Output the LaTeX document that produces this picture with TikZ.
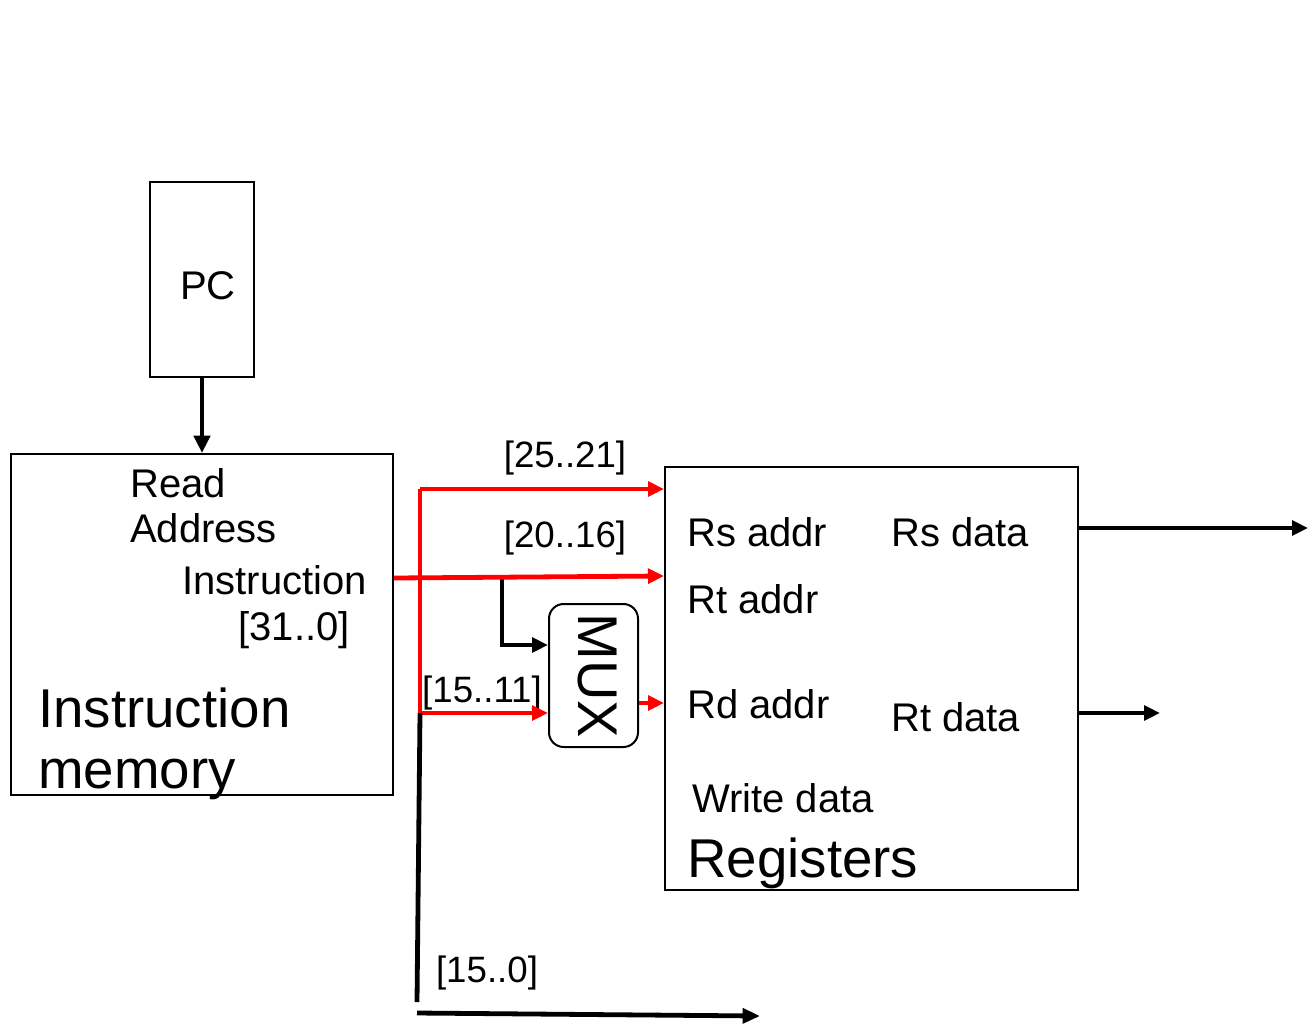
\documentclass[tikz,border=0pt]{standalone}
\usepackage{fontspec}
\setmainfont{Liberation Sans}
\usetikzlibrary{arrows.meta,fit}
\begin{document}
\begin{tikzpicture}[x=0.75pt,y=-0.75pt,
  box/.style={draw,line width=1.5pt,inner sep=0pt},
  redw/.style={draw=red,line width=3.6pt},
  blkw/.style={draw=black,line width=3.6pt},
  tip/.style={-{Triangle[length=12pt,width=11pt]}},
  lbl/.style={inner sep=0pt,anchor=base west,font=\fontsize{30}{31}\selectfont},
  big/.style={inner sep=0pt,anchor=base west,font=\fontsize{41}{42}\selectfont},
  bits/.style={inner sep=0pt,anchor=base,font=\fontsize{27.5}{28}\selectfont}]
\useasboundingbox (0,0) rectangle (1308,1024);
% boxes
\node[box,fit={(150,182)(254,377)}] (pc) {};
\node[inner sep=0pt,anchor=base,font=\fontsize{30}{31}\selectfont] (pct) at (208,299) {PC};
\node[box,fit={(11,454)(393,795)}] (im) {};
\node[box,fit={(665,467)(1078,890)}] (regs) {};
\node[draw,line width=1.5pt,rounded corners=11pt,inner sep=0pt,fit={(549,604)(638,747)}] (mux) {};
\node[inner sep=0pt,rotate=-90,font=\fontsize{42}{43}\selectfont] (muxt) at (597,676) {MUX};
% instruction memory texts
\node[lbl] (rd) at (130,497) {Read};
\node[lbl] (ad) at (130,542) {Address};
\node[lbl,anchor=base east] (ins) at (367,594) {Instruction};
\node[lbl,anchor=base east] (ib) at (350,640) {[31..0]};
\node[big] (imt1) at (38,727) {Instruction};
\node[big] (imt2) at (38,788) {memory};
% register texts
\node[lbl] (rsa) at (687,546) {Rs addr};
\node[lbl] (rsd) at (891,546) {Rs data};
\node[lbl] (rta) at (687,613) {Rt addr};
\node[lbl] (rda) at (687,718) {Rd addr};
\node[lbl] (rtd) at (891,731) {Rt data};
\node[lbl] (wd) at (692,812) {Write data};
\node[big] (regt) at (687,877) {Registers};
% bit labels
\node[bits] (b1) at (565,467) {[25..21]};
\node[bits] (b2) at (565,547) {[20..16]};
\node[bits] (b3) at (482,702) {[15..11]};
\node[bits] (b4) at (487,982) {[15..0]};
% coordinates
\coordinate (j1) at (420,489);
\coordinate (j2) at (420,713);
\coordinate (m0) at (im.east |- 0,578);
\coordinate (m1) at (regs.west |- 0,576);
\coordinate (br) at (502,577);
\coordinate (mo) at (mux.east |- 0,703);
\coordinate (b0) at (417,1002);
\coordinate (c0) at (417,1013);
\coordinate (c1) at (760,1016);
% connectors
\draw[blkw,-{Triangle[length=13pt,width=12pt]}] (pc.south) -- (pc.south |- im.north);
\draw[redw] (j1) -- (j2);
\draw[redw,tip] (j1) -- (j1 -| regs.west);
\draw[blkw,tip] (br) |- (mux.west |- 0,645);
\draw[redw,tip] (m0) -- (m1);
\draw[redw,tip] (j2) -- (j2 -| mux.west);
\draw[redw,tip] (mo) -- (mo -| regs.west);
\draw[blkw] (j2) -- (b0);
\draw[blkw,-{Triangle[length=13pt,width=11pt]}] (c0) -- (c1);
\draw[blkw,tip] (regs.east |- 0,528) -- (1308,528);
\draw[blkw,tip] (regs.east |- 0,713) -- (1160,713);
\end{tikzpicture}
\end{document}
